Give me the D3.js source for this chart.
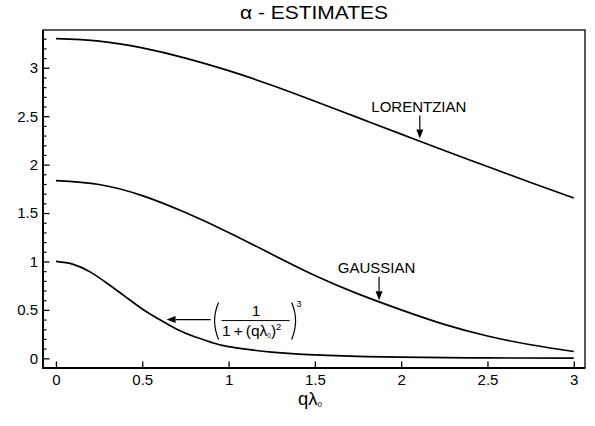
<!DOCTYPE html>
<html>
<head>
<meta charset="utf-8">
<script src="https://cdn.jsdelivr.net/npm/d3@7"></script>
<style>
  body { margin: 0; background: #fff; }
  text { font-family: "Liberation Sans", Arial, Helvetica, sans-serif; fill: #000; }
</style>
</head>
<body>
<svg id="chart" width="595" height="426"></svg>
<script>
// α estimates versus qλ0
const lorentzQ     = [0, 0.25, 0.5, 0.75, 1.0, 1.25, 1.5, 1.75, 2.0, 2.25, 2.5, 2.75, 3.0];
const lorentzAlpha = [3.300, 3.275, 3.205, 3.100, 2.970, 2.820, 2.655, 2.485, 2.315, 2.145, 1.980, 1.815, 1.655];

const gaussQ     = [0, 0.25, 0.5, 0.75, 1.0, 1.25, 1.5, 1.75, 2.0, 2.25, 2.5, 2.75, 3.0];
const gaussAlpha = [1.835, 1.795, 1.680, 1.505, 1.300, 1.075, 0.855, 0.665, 0.500, 0.350, 0.230, 0.140, 0.070];

const powerQ     = [0, 0.1, 0.2, 0.3, 0.4, 0.5, 0.6, 0.7, 0.8, 0.9, 1.0, 1.25, 1.5, 1.75, 2.0, 2.5, 3.0];
const powerAlpha = [1.00, 0.97, 0.89, 0.77, 0.64, 0.51, 0.40, 0.30, 0.225, 0.165, 0.12, 0.064, 0.035, 0.02, 0.012, 0.004, 0.001];

const xTickValues = [0, 0.5, 1, 1.5, 2, 2.5, 3];
const xTickLabels = ["0", "0.5", "1", "1.5", "2", "2.5", "3"];
const yTickValues = [0, 0.5, 1, 1.5, 2, 2.5, 3];
const yTickLabels = ["0", "0.5", "1", "1.5", "2", "2.5", "3"];

const svg = d3.select("#chart");
const plotL = 43, plotR = 585, plotT = 30, plotB = 368;

const x = d3.scaleLinear().domain([-0.075, 3.065]).range([plotL, plotR]);
const y = d3.scaleLinear().domain([-0.1, 3.39]).range([plotB, plotT]);

// Title
svg.append("text")
  .attr("x", (plotL + plotR) / 2).attr("y", 19)
  .attr("text-anchor", "middle")
  .attr("font-size", 17.5)
  .attr("textLength", 148).attr("lengthAdjust", "spacingAndGlyphs")
  .text("α - ESTIMATES");

// Frame: thin top/right, heavier bottom/left
svg.append("rect")
  .attr("x", plotL).attr("y", plotT)
  .attr("width", plotR - plotL).attr("height", plotB - plotT)
  .attr("fill", "none").attr("stroke", "#000").attr("stroke-width", 1.3);
svg.append("path")
  .attr("d", `M${plotL},${plotT}V${plotB}H${plotR}`)
  .attr("fill", "none").attr("stroke", "#000").attr("stroke-width", 2);

// y axis: major ticks every 0.5, minor every 0.1, all pointing inward
const yMinor = d3.range(0, 34).map(i => i / 10).filter(v => Math.abs(v * 2 - Math.round(v * 2)) > 1e-6);
svg.append("g").attr("transform", `translate(${plotL},0)`)
  .call(d3.axisLeft(y).tickValues(yMinor).tickSizeInner(-3.5).tickSizeOuter(0).tickFormat(""))
  .call(g => g.select(".domain").remove())
  .call(g => g.selectAll("line").attr("stroke-width", 1.2));
svg.append("g").attr("transform", `translate(${plotL},0)`)
  .call(d3.axisLeft(y).tickValues(yTickValues).tickSizeInner(-6.5).tickSizeOuter(0).tickPadding(5)
        .tickFormat((d, i) => yTickLabels[i]))
  .call(g => g.select(".domain").remove())
  .call(g => g.selectAll("line").attr("stroke-width", 1.3))
  .call(g => g.selectAll("text").attr("font-size", 15).attr("font-family", null));

// x axis: major ticks only
svg.append("g").attr("transform", `translate(0,${plotB})`)
  .call(d3.axisBottom(x).tickValues(xTickValues).tickSizeInner(-6.5).tickSizeOuter(0).tickPadding(6)
        .tickFormat((d, i) => xTickLabels[i]))
  .call(g => g.select(".domain").remove())
  .call(g => g.selectAll("line").attr("stroke-width", 1.3))
  .call(g => g.selectAll("text").attr("font-size", 15).attr("font-family", null));

// x axis title qλ0
const xt = svg.append("text")
  .attr("x", 298).attr("y", 405)
  .attr("font-size", 18.5);
xt.append("tspan").text("qλ");
xt.append("tspan").attr("font-size", 8).attr("dy", 2).text("0");

// Curves
const line = d3.line().x(d => x(d[0])).y(d => y(d[1])).curve(d3.curveNatural);
[[lorentzQ, lorentzAlpha], [gaussQ, gaussAlpha], [powerQ, powerAlpha]].forEach(([qs, as]) => {
  svg.append("path")
    .datum(qs.map((q, i) => [q, as[i]]))
    .attr("d", line)
    .attr("fill", "none").attr("stroke", "#000").attr("stroke-width", 1.7)
    .attr("stroke-linejoin", "round");
});

// Arrow helper
function arrow(x1, y1, x2, y2) {
  const ang = Math.atan2(y2 - y1, x2 - x1), len = 9, hw = 3.5;
  const bx = x2 - len * Math.cos(ang), by = y2 - len * Math.sin(ang);
  svg.append("line").attr("x1", x1).attr("y1", y1).attr("x2", bx).attr("y2", by)
    .attr("stroke", "#000").attr("stroke-width", 1.2);
  svg.append("path")
    .attr("d", `M${x2},${y2}L${bx - hw * Math.sin(ang)},${by + hw * Math.cos(ang)}L${bx + hw * Math.sin(ang)},${by - hw * Math.cos(ang)}Z`)
    .attr("fill", "#000");
}

// LORENTZIAN label
{
  const tx = x(2.108), ty = y(2.27);
  arrow(tx, ty - 23, tx, ty);
  svg.append("text").attr("x", tx - 1).attr("y", ty - 26.5)
    .attr("text-anchor", "middle").attr("font-size", 15).text("LORENTZIAN");
}
// GAUSSIAN label
{
  const tx = x(1.872), ty = y(0.60);
  arrow(tx, ty - 23.5, tx, ty);
  svg.append("text").attr("x", tx - 2.5).attr("y", ty - 27)
    .attr("text-anchor", "middle").attr("font-size", 15).text("GAUSSIAN");
}
// Formula label (1/(1+(qλ0)^2))^3
{
  const tx = x(0.641), ty = y(0.40);
  const ax = tx + 44;
  arrow(ax, ty, tx, ty);
  const g = svg.append("g").attr("transform", `translate(${ax + 3},${ty})`);
  // large parentheses
  g.append("path").attr("d", "M5,-17 Q-3,1 5,20").attr("fill", "none").attr("stroke", "#000").attr("stroke-width", 1.2);
  g.append("path").attr("d", "M78,-17 Q86,1 78,20").attr("fill", "none").attr("stroke", "#000").attr("stroke-width", 1.2);
  // numerator, bar, denominator
  g.append("text").attr("x", 42.5).attr("y", -4).attr("text-anchor", "middle").attr("font-size", 15.5).text("1");
  g.append("line").attr("x1", 8).attr("x2", 76).attr("y1", 1).attr("y2", 1).attr("stroke", "#000").attr("stroke-width", 1);
  const den = g.append("text").attr("x", 8.5).attr("y", 16.5).attr("font-size", 15.5);
  den.append("tspan").text("1");
  den.append("tspan").attr("dx", 3).text("+");
  den.append("tspan").attr("dx", 3).text("(qλ");
  den.append("tspan").attr("font-size", 6.5).attr("dy", 2).text("0");
  den.append("tspan").attr("dy", -2).text(")");
  den.append("tspan").attr("font-size", 9.5).attr("dy", -6).text("2");
  // outer exponent
  g.append("text").attr("x", 83).attr("y", -13).attr("font-size", 9).text("3");
}
</script>
</body>
</html>
